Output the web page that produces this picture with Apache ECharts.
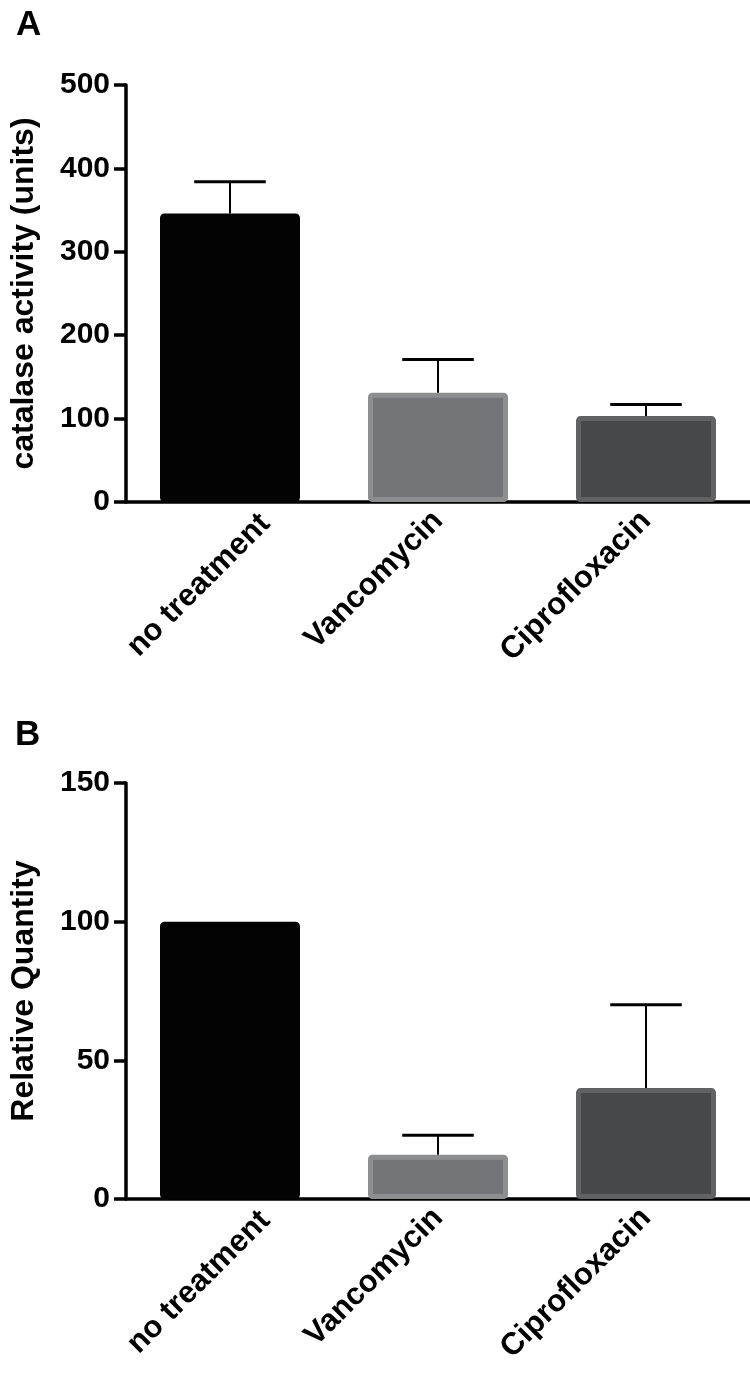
<!DOCTYPE html>
<html>
<head>
<meta charset="utf-8">
<script src="https://cdn.jsdelivr.net/npm/echarts@6/dist/echarts.min.js"></script>
<style>
  html, body { margin: 0; padding: 0; background: #fff; }
  #chart { width: 750px; height: 1390px; }
</style>
</head>
<body>
<div id="chart"></div>
<script>
// categories and values
var categories = ['no treatment', 'Vancomycin', 'Ciprofloxacin'];
var catalaseMean = [346, 131, 103];
var catalaseErr = [38, 40, 14];
var quantityMean = [100, 16, 40];
var quantityErr = [0, 7, 30];
var catalaseTicks = [0, 500, 100];
var quantityTicks = [0, 150, 50];

var fills = ['#030303', '#747578', '#47484a'];
var borders = ['#030303', '#8d8e90', '#616264'];
var font = 'Liberation Sans, Arial, Helvetica, sans-serif';

var myChart = echarts.init(document.getElementById('chart'));

function barData(means) {
  return means.map(function (v, i) {
    return { value: v, itemStyle: { color: fills[i], borderColor: borders[i] } };
  });
}

function errData(means, errs) {
  return means.map(function (v, i) { return [i, v, errs[i]]; });
}

// vertical line from the mean up, plus a cap
function renderErr(params, api) {
  var e = api.value(2);
  if (!e) return;
  var m = api.value(1);
  var base = api.coord([api.value(0), m]);
  var top = api.coord([api.value(0), m + e]);
  var half = api.size([1, 0])[0] * 0.172;
  return {
    type: 'group',
    children: [
      { type: 'line', shape: { x1: top[0], y1: base[1], x2: top[0], y2: top[1] },
        style: { stroke: '#000', lineWidth: 2 } },
      { type: 'line', shape: { x1: top[0] - half, y1: top[1], x2: top[0] + half, y2: top[1] },
        style: { stroke: '#000', lineWidth: 3 } }
    ]
  };
}

// first label sits further right in the original figure
var axisCats = categories.map(function (c, i) {
  return i === 0 ? { value: c, textStyle: { verticalAlign: 'top', lineHeight: 54, padding: [0, -23, 0, 0] } } : c;
});

function xAxis(idx) {
  return {
    type: 'category',
    gridIndex: idx,
    data: axisCats,
    axisLine: { lineStyle: { color: '#000', width: 3.5 } },
    axisTick: { alignWithLabel: true, length: 9, lineStyle: { color: '#000', width: 3.5 } },
    axisLabel: { rotate: 45, margin: 14, color: '#000', fontSize: 31, fontWeight: 'bold', fontFamily: font, interval: 0 }
  };
}

function yAxis(idx, name, ticks) {
  return {
    type: 'value',
    gridIndex: idx,
    min: ticks[0],
    max: ticks[1],
    interval: ticks[2],
    name: name,
    nameLocation: 'middle',
    nameGap: 86,
    nameTextStyle: { color: '#000', fontSize: 32, fontWeight: 'bold', fontFamily: font },
    splitLine: { show: false },
    axisLine: { show: true, lineStyle: { color: '#000', width: 3.5 } },
    axisTick: { show: true, length: 12, lineStyle: { color: '#000', width: 3.5 } },
    axisLabel: { margin: 16, color: '#000', fontSize: 30, fontWeight: 'bold', fontFamily: font }
  };
}

myChart.setOption({
  animation: false,
  backgroundColor: '#fff',
  title: [
    { text: 'A', left: 11, top: 3, textStyle: { color: '#000', fontSize: 35, fontWeight: 'bold', fontFamily: font } },
    { text: 'B', left: 10, top: 713, textStyle: { color: '#000', fontSize: 35, fontWeight: 'bold', fontFamily: font } }
  ],
  grid: [
    { left: 124, right: 0, top: 85, height: 417 },
    { left: 124, right: 0, top: 783, height: 416 }
  ],
  xAxis: [xAxis(0), xAxis(1)],
  yAxis: [
    yAxis(0, 'catalase activity (units)', catalaseTicks),
    yAxis(1, 'Relative Quantity', quantityTicks)
  ],
  series: [
    {
      type: 'bar', xAxisIndex: 0, yAxisIndex: 0, barWidth: 140,
      itemStyle: { borderWidth: 5, borderRadius: 2 },
      data: barData(catalaseMean)
    },
    {
      type: 'custom', xAxisIndex: 0, yAxisIndex: 0, z: 3,
      renderItem: renderErr, encode: { x: 0, y: 1 },
      data: errData(catalaseMean, catalaseErr)
    },
    {
      type: 'bar', xAxisIndex: 1, yAxisIndex: 1, barWidth: 140,
      itemStyle: { borderWidth: 5, borderRadius: 2 },
      data: barData(quantityMean)
    },
    {
      type: 'custom', xAxisIndex: 1, yAxisIndex: 1, z: 3,
      renderItem: renderErr, encode: { x: 0, y: 1 },
      data: errData(quantityMean, quantityErr)
    }
  ]
});
</script>
</body>
</html>
